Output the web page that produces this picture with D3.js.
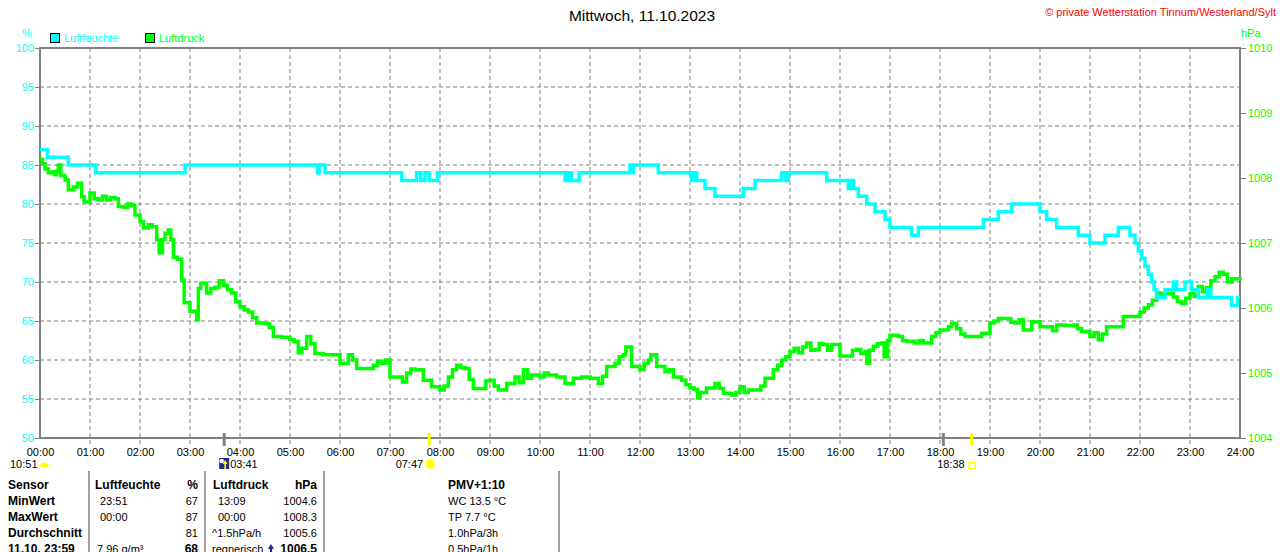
<!DOCTYPE html>
<html>
<head>
<meta charset="utf-8">
<script src="https://cdn.jsdelivr.net/npm/d3@7"></script>
<style>
  body { margin: 0; background: #fff; }
  svg { display: block; font-family: "Liberation Sans", Arial, sans-serif; }
</style>
</head>
<body>
<svg width="1280" height="552"></svg>
<script>
// Luftfeuchte (%), step series: [time, value]
const humidity = [
  ["00:00", 87], ["00:09", 86], ["00:34", 85], ["01:07", 84], ["02:54", 85],
  ["05:33", 84], ["05:35", 85], ["05:42", 84], ["07:14", 83], ["07:32", 84],
  ["07:37", 83], ["07:42", 84], ["07:47", 83], ["07:57", 84], ["10:30", 83],
  ["10:34", 84], ["10:38", 83], ["10:47", 84], ["11:48", 85], ["11:50", 84],
  ["11:52", 85], ["12:22", 84], ["13:02", 83], ["13:04", 84], ["13:08", 83],
  ["13:18", 82], ["13:30", 81], ["14:04", 82], ["14:18", 83], ["14:50", 84],
  ["14:55", 83], ["14:58", 84], ["15:44", 83], ["16:10", 82], ["16:13", 83],
  ["16:16", 82], ["16:22", 81], ["16:32", 80], ["16:42", 79], ["16:54", 78],
  ["17:00", 77], ["17:26", 76], ["17:34", 77], ["18:52", 78], ["19:10", 79],
  ["19:26", 80], ["20:00", 79], ["20:08", 78], ["20:20", 77], ["20:46", 76],
  ["21:00", 75], ["21:18", 76], ["21:34", 77], ["21:48", 76], ["21:54", 75],
  ["21:58", 74], ["22:02", 73], ["22:06", 72], ["22:10", 71], ["22:14", 70],
  ["22:17", 69], ["22:20", 68], ["22:30", 69], ["22:40", 70], ["22:44", 69],
  ["22:54", 70], ["23:02", 69], ["23:10", 68], ["23:21", 69], ["23:25", 68],
  ["23:50", 67], ["23:57", 68], ["24:00", 68]
];

// Luftdruck (hPa): [time, value]
const pressure = [
  ["00:00", 1008.29], ["00:03", 1008.22], ["00:06", 1008.14], ["00:10", 1008.08], ["00:15", 1008.10],
  ["00:18", 1008.05], ["00:20", 1008.10], ["00:22", 1008.20], ["00:25", 1008.04], ["00:30", 1007.97],
  ["00:34", 1007.82], ["00:40", 1007.86], ["00:45", 1007.92], ["00:50", 1007.71], ["00:53", 1007.63],
  ["01:00", 1007.77], ["01:05", 1007.68], ["01:10", 1007.66], ["01:15", 1007.72], ["01:20", 1007.66],
  ["01:25", 1007.70], ["01:30", 1007.68], ["01:34", 1007.56], ["01:40", 1007.55], ["01:45", 1007.60],
  ["01:50", 1007.58], ["01:54", 1007.43], ["02:00", 1007.33], ["02:04", 1007.23], ["02:10", 1007.28],
  ["02:15", 1007.25], ["02:20", 1007.05], ["02:23", 1006.85], ["02:27", 1007.05], ["02:30", 1007.15],
  ["02:34", 1007.20], ["02:37", 1007.05], ["02:40", 1006.78], ["02:45", 1006.75], ["02:50", 1006.43],
  ["02:53", 1006.08], ["03:00", 1005.95], ["03:05", 1005.95], ["03:08", 1005.82], ["03:10", 1006.30],
  ["03:13", 1006.38], ["03:20", 1006.23], ["03:25", 1006.30], ["03:30", 1006.32], ["03:35", 1006.42],
  ["03:40", 1006.35], ["03:45", 1006.28], ["03:50", 1006.23], ["03:55", 1006.10], ["04:00", 1006.02],
  ["04:05", 1005.97], ["04:10", 1005.94], ["04:15", 1005.85], ["04:20", 1005.77], ["04:30", 1005.76],
  ["04:35", 1005.70], ["04:40", 1005.56], ["04:50", 1005.55], ["05:00", 1005.51], ["05:05", 1005.48],
  ["05:10", 1005.31], ["05:14", 1005.38], ["05:20", 1005.56], ["05:25", 1005.45], ["05:30", 1005.30],
  ["05:40", 1005.28], ["05:50", 1005.28], ["06:00", 1005.15], ["06:10", 1005.28], ["06:15", 1005.20],
  ["06:20", 1005.07], ["06:30", 1005.07], ["06:40", 1005.12], ["06:45", 1005.18], ["06:50", 1005.15],
  ["06:55", 1005.20], ["07:00", 1004.94], ["07:10", 1004.94], ["07:15", 1004.86], ["07:20", 1005.00],
  ["07:25", 1005.06], ["07:30", 1005.05], ["07:40", 1004.89], ["07:50", 1004.79], ["08:00", 1004.74],
  ["08:05", 1004.80], ["08:10", 1004.94], ["08:15", 1005.05], ["08:20", 1005.12], ["08:25", 1005.08],
  ["08:30", 1005.07], ["08:35", 1004.90], ["08:40", 1004.76], ["08:50", 1004.76], ["08:55", 1004.88],
  ["09:00", 1004.89], ["09:05", 1004.80], ["09:10", 1004.74], ["09:20", 1004.84], ["09:30", 1004.94],
  ["09:35", 1004.85], ["09:40", 1005.05], ["09:45", 1004.92], ["09:50", 1004.97], ["10:00", 1004.94],
  ["10:05", 1005.00], ["10:10", 1004.97], ["10:20", 1004.94], ["10:30", 1004.84], ["10:40", 1004.92],
  ["10:50", 1004.94], ["11:00", 1004.92], ["11:10", 1004.84], ["11:15", 1004.95], ["11:20", 1005.10],
  ["11:30", 1005.15], ["11:35", 1005.25], ["11:40", 1005.28], ["11:43", 1005.40], ["11:50", 1005.10],
  ["12:00", 1005.05], ["12:05", 1005.15], ["12:10", 1005.20], ["12:13", 1005.28], ["12:20", 1005.10],
  ["12:30", 1005.02], ["12:35", 1005.05], ["12:40", 1004.94], ["12:50", 1004.89], ["12:55", 1004.82],
  ["13:00", 1004.77], ["13:05", 1004.75], ["13:09", 1004.62], ["13:12", 1004.70], ["13:20", 1004.77],
  ["13:30", 1004.84], ["13:35", 1004.76], ["13:40", 1004.69], ["13:50", 1004.66], ["13:55", 1004.70],
  ["14:00", 1004.79], ["14:05", 1004.70], ["14:10", 1004.74], ["14:20", 1004.74], ["14:25", 1004.80],
  ["14:30", 1004.92], ["14:40", 1005.05], ["14:45", 1005.12], ["14:50", 1005.20], ["14:55", 1005.25],
  ["15:00", 1005.33], ["15:05", 1005.38], ["15:10", 1005.31], ["15:15", 1005.40], ["15:20", 1005.46],
  ["15:25", 1005.35], ["15:30", 1005.36], ["15:35", 1005.45], ["15:40", 1005.44], ["15:45", 1005.35],
  ["15:50", 1005.44], ["16:00", 1005.26], ["16:10", 1005.26], ["16:15", 1005.35], ["16:20", 1005.36],
  ["16:25", 1005.30], ["16:30", 1005.33], ["16:32", 1005.15], ["16:35", 1005.35], ["16:40", 1005.41],
  ["16:45", 1005.45], ["16:50", 1005.46], ["16:53", 1005.25], ["16:57", 1005.50], ["17:00", 1005.58],
  ["17:10", 1005.56], ["17:15", 1005.50], ["17:20", 1005.49], ["17:30", 1005.46], ["17:35", 1005.50],
  ["17:40", 1005.46], ["17:50", 1005.56], ["17:55", 1005.62], ["18:00", 1005.66], ["18:10", 1005.71],
  ["18:14", 1005.76], ["18:20", 1005.68], ["18:25", 1005.60], ["18:30", 1005.56], ["18:40", 1005.56],
  ["18:50", 1005.61], ["19:00", 1005.77], ["19:05", 1005.80], ["19:10", 1005.84], ["19:20", 1005.84],
  ["19:25", 1005.78], ["19:30", 1005.77], ["19:35", 1005.82], ["19:40", 1005.66], ["19:50", 1005.79],
  ["20:00", 1005.71], ["20:10", 1005.71], ["20:15", 1005.65], ["20:20", 1005.74], ["20:30", 1005.73],
  ["20:40", 1005.74], ["20:45", 1005.68], ["20:50", 1005.64], ["21:00", 1005.56], ["21:05", 1005.62],
  ["21:10", 1005.51], ["21:15", 1005.60], ["21:20", 1005.71], ["21:30", 1005.71], ["21:40", 1005.87],
  ["21:50", 1005.87], ["22:00", 1005.94], ["22:05", 1006.00], ["22:10", 1006.05], ["22:15", 1006.12],
  ["22:20", 1006.23], ["22:25", 1006.20], ["22:30", 1006.22], ["22:40", 1006.17], ["22:45", 1006.10],
  ["22:50", 1006.07], ["22:55", 1006.15], ["23:00", 1006.22], ["23:05", 1006.18], ["23:10", 1006.33],
  ["23:15", 1006.25], ["23:20", 1006.31], ["23:25", 1006.42], ["23:30", 1006.48], ["23:35", 1006.55],
  ["23:40", 1006.52], ["23:45", 1006.40], ["23:50", 1006.45], ["24:00", 1006.48]
];

const humidityTicks = [50, 55, 60, 65, 70, 75, 80, 85, 90, 95, 100];
const pressureTicks = [1004, 1005, 1006, 1007, 1008, 1009, 1010];
const hourTicks = d3.range(0, 25); // 00:00 .. 24:00

// sun / moon events under the time axis
const axisMarks = [
  { time: "03:41", color: "#808080" },
  { time: "07:47", color: "#ffff00" },
  { time: "18:04", color: "#808080" },
  { time: "18:38", color: "#ffff00" }
];

// table below the chart
const tableRows = [
  ["Sensor", "Luftfeuchte", "%", "Luftdruck", "hPa", "PMV+1:10"],
  ["MinWert", "23:51", "67", "13:09", "1004.6", "WC 13.5 °C"],
  ["MaxWert", "00:00", "87", "00:00", "1008.3", "TP 7.7 °C"],
  ["Durchschnitt", "", "81", "^1.5hPa/h", "1005.6", "1.0hPa/3h"],
  ["11.10. 23:59", "7.96 g/m³", "68", "regnerisch", "1006.5", "0.5hPa/1h"]
];

const svg = d3.select("svg"),
  width = +svg.attr("width"),
  height = +svg.attr("height");

const cyan = "#00ffff", green = "#00ff00", grey = "#808080";
const minutes = s => { const [h, m] = s.split(":"); return +h * 60 + +m; };

// Scales
const x = d3.scaleLinear().domain([0, 1440]).range([40, 1240]);
const yH = d3.scaleLinear().domain([50, 100]).range([438, 48]);
const yP = d3.scaleLinear().domain([1004, 1010]).range([438, 48]);

// Grid
svg.append("g")
  .selectAll("line")
  .data(hourTicks.slice(1, -1))
  .join("line")
  .attr("x1", d => x(d * 60)).attr("x2", d => x(d * 60))
  .attr("y1", 48).attr("y2", 444)
  .attr("stroke", grey)
  .attr("stroke-dasharray", "4,3");

svg.append("g")
  .selectAll("line")
  .data(humidityTicks.slice(1, -1))
  .join("line")
  .attr("x1", 40).attr("x2", 1240)
  .attr("y1", d => yH(d)).attr("y2", d => yH(d))
  .attr("stroke", grey)
  .attr("stroke-dasharray", "4,3");

// Frame
svg.append("rect")
  .attr("x", 40).attr("y", 48)
  .attr("width", 1200).attr("height", 390)
  .attr("fill", "none")
  .attr("stroke", grey)
  .attr("stroke-width", 2);

// Left axis (humidity)
const axisL = svg.append("g")
  .attr("transform", "translate(40,0)")
  .call(d3.axisLeft(yH).tickValues(humidityTicks).tickSize(5).tickPadding(1));
axisL.select(".domain").remove();
axisL.selectAll("line").attr("stroke", grey);
axisL.selectAll("text").attr("fill", cyan).style("font-size", "11px");

// Right axis (pressure)
const axisR = svg.append("g")
  .attr("transform", "translate(1240,0)")
  .call(d3.axisRight(yP).tickValues(pressureTicks).tickFormat(d3.format("d")).tickSize(6).tickPadding(2));
axisR.select(".domain").remove();
axisR.selectAll("line").attr("stroke", grey);
axisR.selectAll("text").attr("fill", green).style("font-size", "11px");

// Bottom axis (hours)
const axisB = svg.append("g")
  .attr("transform", "translate(0,438)")
  .call(d3.axisBottom(x)
    .tickValues(hourTicks.map(h => h * 60))
    .tickSize(0).tickPadding(10)
    .tickFormat(d => d3.format("02")(d / 60) + ":00"));
axisB.select(".domain").remove();
axisB.selectAll("text").attr("fill", "#000").style("font-size", "11px");

// Marks on the time axis
svg.append("g")
  .selectAll("line")
  .data(axisMarks)
  .join("line")
  .attr("x1", d => x(minutes(d.time))).attr("x2", d => x(minutes(d.time)))
  .attr("y1", 433).attr("y2", 446)
  .attr("stroke", d => d.color)
  .attr("stroke-width", 3);

// Curves
const pressureLine = d3.line()
  .curve(d3.curveStepAfter)
  .x(d => x(minutes(d[0])))
  .y(d => yP(d[1]));

svg.append("path")
  .datum(pressure)
  .attr("d", pressureLine)
  .attr("fill", "none")
  .attr("stroke", green)
  .attr("stroke-width", 3.5);

const humidityLine = d3.line()
  .curve(d3.curveStepAfter)
  .x(d => x(minutes(d[0])))
  .y(d => yH(d[1]));

svg.append("path")
  .datum(humidity)
  .attr("d", humidityLine)
  .attr("fill", "none")
  .attr("stroke", cyan)
  .attr("stroke-width", 3.5);

// Title and header texts
svg.append("text")
  .attr("x", 642).attr("y", 21)
  .attr("text-anchor", "middle")
  .style("font-size", "15.5px")
  .text("Mittwoch, 11.10.2023");

svg.append("text")
  .attr("x", 1276).attr("y", 16)
  .attr("text-anchor", "end")
  .attr("fill", "#ff0000")
  .style("font-size", "11px")
  .text("© private Wetterstation Tinnum/Westerland/Sylt");

svg.append("text")
  .attr("x", 27).attr("y", 37)
  .attr("text-anchor", "middle")
  .attr("fill", cyan)
  .style("font-size", "11px")
  .text("%");

svg.append("text")
  .attr("x", 1241).attr("y", 37)
  .attr("fill", green)
  .style("font-size", "11px")
  .text("hPa");

// Legend
const legend = [
  { name: "Luftfeuchte", color: cyan, x: 50 },
  { name: "Luftdruck", color: green, x: 145 }
];
const lg = svg.append("g")
  .selectAll("g")
  .data(legend)
  .join("g")
  .attr("transform", d => `translate(${d.x},33)`);
lg.append("rect")
  .attr("x", 0.5).attr("y", 0.5)
  .attr("width", 9).attr("height", 9)
  .attr("fill", d => d.color)
  .attr("stroke", "#000");
lg.append("text")
  .attr("x", 14).attr("y", 9)
  .attr("fill", d => d.color)
  .style("font-size", "11px")
  .text(d => d.name);

// Sun and moon times
const ev = svg.append("g").style("font-size", "11px");
ev.append("text").attr("x", 10).attr("y", 468).text("10:51");
ev.append("path") // small yellow moon-set cloud
  .attr("d", "M40,467 A4.5,4.5 0 0 1 49,467 Z")
  .attr("fill", "#ffff00");

const moonX = x(minutes("03:41"));
ev.append("rect")
  .attr("x", moonX - 5).attr("y", 458)
  .attr("width", 10).attr("height", 11)
  .attr("fill", "#1f2a80");
ev.append("circle")
  .attr("cx", moonX - 2.5).attr("cy", 461).attr("r", 2.3)
  .attr("fill", "#ffffff");
ev.append("path")
  .attr("d", `M${moonX + 1},460 L${moonX + 3.5},464 L${moonX + 1.8},464 L${moonX + 1.8},469 L${moonX + 0.2},469 L${moonX + 0.2},464 L${moonX - 1.5},464 Z`)
  .attr("fill", "#ffff00");
ev.append("text").attr("x", moonX + 6).attr("y", 468).text("03:41");

const riseX = x(minutes("07:47"));
ev.append("text").attr("x", riseX - 6).attr("y", 468).attr("text-anchor", "end").text("07:47");
ev.append("circle")
  .attr("cx", riseX + 1).attr("cy", 464).attr("r", 6)
  .attr("fill", "#ffffa0");
ev.append("circle")
  .attr("cx", riseX + 1).attr("cy", 464).attr("r", 4)
  .attr("fill", "#ffff00");

const setX = x(minutes("18:38"));
ev.append("text").attr("x", setX - 7).attr("y", 468).attr("text-anchor", "end").text("18:38");
ev.append("rect")
  .attr("x", setX - 2.5).attr("y", 462.5)
  .attr("width", 6).attr("height", 6)
  .attr("fill", "none")
  .attr("stroke", "#ffff00")
  .attr("stroke-width", 1.5);

// Table
const sepX = [89, 205, 324, 559];
svg.append("g")
  .selectAll("line")
  .data(sepX)
  .join("line")
  .attr("x1", d => d).attr("x2", d => d)
  .attr("y1", 471).attr("y2", 552)
  .attr("stroke", grey)
  .attr("stroke-width", 1.5);

const cols = [
  { x: 8, anchor: "start" },
  { x: 100, anchor: "start", head: 95 },
  { x: 198, anchor: "end" },
  { x: 218, anchor: "start", head: 213 },
  { x: 317, anchor: "end" },
  { x: 448, anchor: "start" }
];
const rowY = d3.scaleLinear().domain([0, 1]).range([489, 505]);

tableRows.forEach((row, ri) => {
  row.forEach((cell, ci) => {
    const c = cols[ci];
    let cx = c.x;
    if (ri === 0 && c.head) cx = c.head;
    if (ri >= 3 && ci === 1) cx = 97;
    if (ri >= 3 && ci === 3) cx = 212;
    const bold = ri === 0 || ci === 0 || (ri === 4 && (ci === 2 || ci === 4));
    svg.append("text")
      .attr("x", cx)
      .attr("y", rowY(ri))
      .attr("text-anchor", c.anchor)
      .style("font-size", bold ? "12px" : "11px")
      .style("font-weight", bold ? "bold" : "normal")
      .text(cell);
  });
});

// trend arrow before the current pressure
svg.append("path")
  .attr("d", "M271,544 L274,549 L272,549 L272,553 L270,553 L270,549 L268,549 Z")
  .attr("fill", "#1f2a80");
</script>
</body>
</html>
